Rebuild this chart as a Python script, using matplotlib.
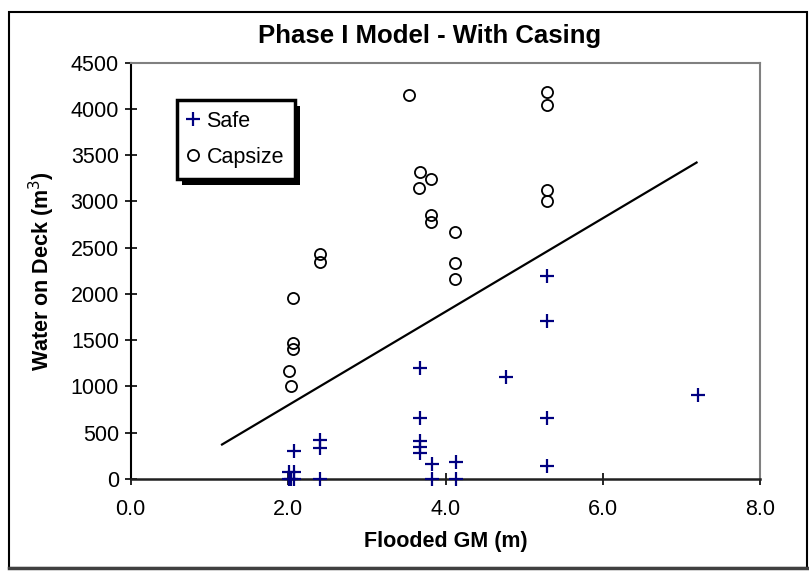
import matplotlib.pyplot as plt
from matplotlib.patches import Rectangle
from matplotlib.lines import Line2D

plt.rcParams['font.family'] = ['Liberation Sans', 'DejaVu Sans']

# Capsize points (Flooded GM, Water on Deck)
capsize_gm = [2.01, 2.04, 2.06, 2.06, 2.06, 2.40, 2.40, 3.54, 3.67, 3.66, 3.81,
              3.81, 3.81, 4.12, 4.12, 4.12, 5.29, 5.29, 5.29, 5.29]
capsize_wod = [1160, 1007, 1400, 1465, 1950, 2349, 2430, 4149, 3320, 3150, 3240,
               2854, 2781, 2673, 2331, 2160, 4181, 4040, 3125, 3000]

# Safe points
safe_gm = [2.01, 2.04, 2.08, 2.01, 2.08, 2.075, 2.40, 2.40, 2.40, 3.67, 3.67,
           3.67, 3.67, 3.67, 3.83, 3.83, 4.13, 4.13, 4.77, 5.29, 5.29, 5.29,
           5.29, 7.21]
safe_wod = [0, 0, 0, 76, 76, 304, 0, 328, 417, 1195, 653, 411, 346, 275,
            155, 0, 177, 0, 1101, 2190, 1710, 653, 135, 906]

# Trend line end points
trend_gm = [1.16, 7.19]
trend_wod = [370, 3420]

fig = plt.figure(figsize=(8.09, 5.71), dpi=100)
ax = fig.add_axes([0.1616, 0.1616, 0.7782, 0.7286])

ax.plot(trend_gm, trend_wod, color='black', lw=1.6, zorder=2)
ax.plot(safe_gm, safe_wod, linestyle='none', marker='+', markersize=10,
        markeredgewidth=1.6, color='#000080', label='Safe', zorder=3, clip_on=False)
ax.plot(capsize_gm, capsize_wod, linestyle='none', marker='o', markersize=8,
        markerfacecolor='none', markeredgecolor='black', markeredgewidth=1.3,
        label='Capsize', zorder=3)

ax.set_xlim(0, 8)
ax.set_ylim(0, 4500)
ax.set_xticks([0, 2, 4, 6, 8])
ax.set_xticklabels(['0.0', '2.0', '4.0', '6.0', '8.0'])
ax.set_yticks(range(0, 4501, 500))
ax.tick_params(direction='inout', length=9, width=1.2, labelsize=15.5, pad=4,
               color='black')
ax.tick_params(axis='x', pad=10)

ax.spines['top'].set_color('#808080')
ax.spines['right'].set_color('#808080')
ax.spines['top'].set_linewidth(1.5)
ax.spines['right'].set_linewidth(1.5)
ax.spines['left'].set_color('black')
ax.spines['bottom'].set_color('#202020')
ax.spines['left'].set_linewidth(1.5)
ax.spines['bottom'].set_linewidth(1.8)

ax.set_xlabel('Flooded GM (m)', fontsize=15.5, fontweight='bold', labelpad=8)
ax.set_ylabel('Water on Deck (m$^3$)', fontsize=15.5, fontweight='bold', labelpad=10)
fig.text(430 / 809, 1 - 36 / 571, 'Phase I Model - With Casing', fontsize=18.5,
         fontweight='bold', ha='center', va='center')

leg = ax.legend(loc='upper left', bbox_to_anchor=(0.074, 0.910), borderaxespad=0,
                fontsize=15.5, handlelength=0.5, handletextpad=0.35, borderpad=0.5,
                labelspacing=0.7, fancybox=False, edgecolor='black', framealpha=1)
leg.get_frame().set_linewidth(2.5)
leg.set_zorder(6)

# outer chart border
fig.add_artist(Rectangle((9 / 809, 3 / 571), 797.7 / 809, 555.7 / 571,
                         transform=fig.transFigure, fill=False,
                         edgecolor='black', lw=1.5))
fig.add_artist(Line2D([9 / 809, 806.7 / 809], [3 / 571, 3 / 571],
                      transform=fig.transFigure, color='#404040', lw=2.5))

# legend drop shadow
fig.canvas.draw()
bb = leg.get_window_extent()
shadow = Rectangle((bb.x0 + 5, bb.y0 - 6), bb.width, bb.height,
                   transform=None, facecolor='black', edgecolor='none', zorder=5.5)
ax.add_artist(shadow)

fig.savefig('out.png', dpi=100)
